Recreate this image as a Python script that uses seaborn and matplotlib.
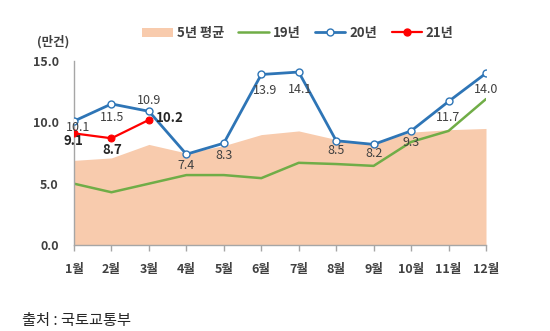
import matplotlib
matplotlib.use("Agg")
import matplotlib.pyplot as plt
import seaborn as sns
import pandas as pd
from matplotlib.patches import Patch
from matplotlib.lines import Line2D

months = ["1월", "2월", "3월", "4월", "5월", "6월", "7월", "8월", "9월", "10월", "11월", "12월"]
avg5 = [6.9, 7.1, 8.2, 7.5, 8.1, 9.0, 9.3, 8.6, 8.3, 9.2, 9.4, 9.5]
y19 = [5.0, 4.3, 5.0, 5.7, 5.7, 5.45, 6.7, 6.6, 6.45, 8.4, 9.3, 11.9]
y20 = [10.1, 11.5, 10.9, 7.4, 8.3, 13.9, 14.1, 8.5, 8.2, 9.3, 11.7, 14.0]
y21 = [9.1, 8.7, 10.2]
yticks = [0.0, 5.0, 10.0, 15.0]

sns.set_theme(style="white")
plt.rcParams["font.family"] = ["Noto Sans CJK KR", "DejaVu Sans"]

c_area = "#F8CBAD"
c_green = "#70AD47"
c_blue = "#2E75B6"
c_red = "#FF0000"
c_text = "#404040"

fig = plt.figure(figsize=(5.5, 3.31), dpi=100)
ax = fig.add_axes([74 / 550, 1 - 245 / 331, (486 - 74) / 550, (245 - 61) / 331])

x = list(range(len(months)))
df = pd.DataFrame({"x": x, "avg5": avg5, "y19": y19, "y20": y20})
df21 = pd.DataFrame({"x": x[:len(y21)], "y21": y21})

ax.fill_between(df["x"], 0, df["avg5"], color=c_area, lw=0, zorder=1)
sns.lineplot(data=df, x="x", y="y19", ax=ax, color=c_green, lw=1.8, zorder=2)
sns.lineplot(data=df, x="x", y="y20", ax=ax, color=c_blue, lw=2.0, marker="o",
             markersize=5, markerfacecolor="white", markeredgecolor=c_blue,
             markeredgewidth=1.0, zorder=3)
sns.lineplot(data=df21, x="x", y="y21", ax=ax, color=c_red, lw=1.6, marker="o",
             markersize=5, markerfacecolor=c_red, markeredgecolor=c_red, zorder=4)

# value labels for 2020 (offsets in pixels)
offs20 = [(4, -6), (1, -14), (0, 11), (0, -11), (0, -12), (4, -16),
          (1, -17), (0, -10), (0, -9), (0, -12), (0, -16), (0, -16)]
for i, v in enumerate(y20):
    dx, dy = offs20[i]
    ax.annotate(f"{v:.1f}", (i, v), xytext=(dx * 0.72, dy * 0.72), textcoords="offset points",
                ha="center", va="center", fontsize=9, color=c_text, zorder=5)

# value labels for 2021
offs21 = [(-1, -8), (1, -12), (21, 2)]
for i, v in enumerate(y21):
    dx, dy = offs21[i]
    ax.annotate(f"{v:.1f}", (i, v), xytext=(dx * 0.72, dy * 0.72), textcoords="offset points",
                ha="center", va="center", fontsize=9.5, fontweight="bold",
                color="#262626", zorder=5)

ax.set_xlim(0, 11)
ax.set_ylim(0, 15)
ax.set_xticks(x)
ax.set_xticklabels(months, fontsize=9, fontweight="bold", color=c_text)
ax.set_yticks(yticks)
ax.set_yticklabels([f"{t:.1f}" for t in yticks], fontsize=9, fontweight="bold", color=c_text)
ax.set_xlabel("")
ax.set_ylabel("")
for s in ["top", "right"]:
    ax.spines[s].set_visible(False)
for s in ["left", "bottom"]:
    ax.spines[s].set_color("#A6A6A6")
    ax.spines[s].set_linewidth(1.0)
ax.tick_params(axis="x", length=4, width=1, color="#A6A6A6", pad=9, bottom=True)
ax.tick_params(axis="y", length=0, pad=11)

handles = [
    Patch(facecolor=c_area, edgecolor="none"),
    Line2D([], [], color=c_green, lw=1.8),
    Line2D([], [], color=c_blue, lw=2.0, marker="o", markersize=5,
           markerfacecolor="white", markeredgecolor=c_blue),
    Line2D([], [], color=c_red, lw=1.6, marker="o", markersize=5,
           markerfacecolor=c_red, markeredgecolor=c_red),
]
labels = ["5년 평균", "19년", "20년", "21년"]
fig.legend(handles, labels, loc="center", bbox_to_anchor=(298 / 550, 1 - 33 / 331),
           ncol=4, frameon=False, handlelength=2.3, columnspacing=1.1,
           handletextpad=0.3, labelcolor=c_text, prop={"weight": "bold", "size": 9.5})

fig.text(37 / 550, 1 - 42 / 331, "(만건)", fontsize=9, fontweight="bold", color=c_text,
         ha="left", va="center")
fig.text(22 / 550, 1 - 320 / 331, "출처 : 국토교통부", fontsize=11, color="#262626",
         ha="left", va="center")

fig.savefig("out.png", dpi=100)
